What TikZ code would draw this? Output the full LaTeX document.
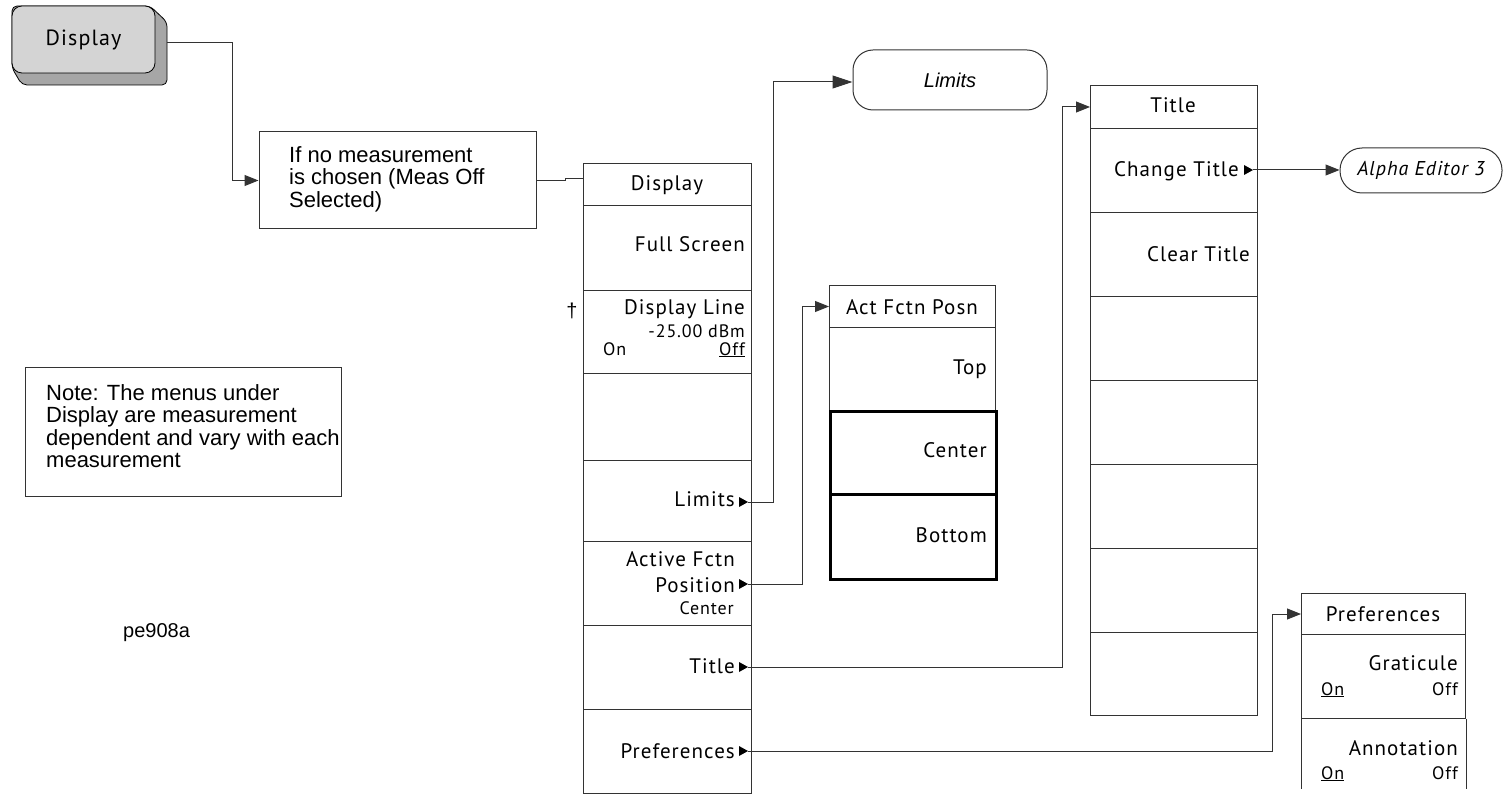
\documentclass[tikz,border=0pt]{standalone}
\usepackage{fontspec}
\setmainfont{Liberation Sans}
\newfontfamily\keyfont[LetterSpace=5]{PT Sans}
\usetikzlibrary{arrows.meta}
\definecolor{keygrey}{HTML}{D4D4D4}
\definecolor{shadegrey}{HTML}{A6A6A6}
\definecolor{edge}{HTML}{333333}
\newcommand{\keyarrow}[3]{\fill[black] (#2-9,#3-5) -- (#2-9,#3+5) -- (#2,#3) -- cycle; \coordinate (#1) at (#2,#3);}
\tikzset{
  conn/.style={draw=edge, line width=1pt, -{Triangle[length=14pt,width=11pt]}},
  bigconn/.style={draw=edge, line width=1pt, -{Triangle[length=20pt,width=13pt]}},
  plain/.style={draw=edge, line width=1pt},
  row/.style={draw=edge, line width=1pt, minimum width=168, inner sep=0, anchor=north west},
  thickrow/.style={draw=black, line width=2.6pt, minimum width=166, inner sep=0, anchor=north west},
  box/.style={draw=edge, line width=1pt, inner sep=0},
  notetext/.style={font=\fontsize{22}{22.5}\selectfont, inner sep=0, align=left, anchor=north west},
  keylbl/.style={font=\keyfont\fontsize{21}{22}\selectfont, inner sep=0, anchor=base east},
  keyhead/.style={font=\keyfont\fontsize{21}{22}\selectfont, inner sep=0, anchor=base},
  keysmall/.style={font=\keyfont\fontsize{18}{19}\selectfont, inner sep=0},
}
\begin{document}
\begin{tikzpicture}[x=1pt,y=-1pt]
\useasboundingbox (0,0) rectangle (1503,799);
% hard key
\filldraw[fill=shadegrey, draw=black, line width=0.8pt, rounded corners=5] (150,6) -- (167,22) -- (167,85) -- (22,85) -- (12,68) -- (12,6) -- cycle;
\node[draw=black, line width=0.8pt, fill=keygrey, rounded corners=10, minimum width=143, minimum height=67, inner sep=0, font=\keyfont\fontsize{22}{22}\selectfont] (hk) at (83.5,39.5) {Display};
\coordinate (hkout) at (167,43);
% condition box
\node[box, minimum width=277, minimum height=97] (nomeas) at (397.5,180.5) {};
\node[notetext] (nomeastxt) at (289,146) {If no measurement\\is chosen (Meas Off\\Selected)};
\draw[conn] (hkout) -- ++(65,0) |- (nomeas.west);
% note
\node[box, minimum width=316, minimum height=129] (notebox) at (183,431.5) {};
\node[notetext] (notetxt) at (46,384) {Note: The menus under\\Display are measurement\\dependent and vary with each\\measurement};
\node[font=\fontsize{20}{20}\selectfont, inner sep=0, anchor=base west] (fig) at (123,637) {pe908a};
% Display menu
\node[row, minimum height=42] (dhead) at (583,163) {};
\node[row, minimum height=85] (dfs) at (583,205) {};
\node[row, minimum height=83] (ddl) at (583,290) {};
\node[row, minimum height=87] (dblank) at (583,373) {};
\node[row, minimum height=81] (dlim) at (583,460) {};
\node[row, minimum height=84] (dafp) at (583,541) {};
\node[row, minimum height=84] (dtit) at (583,625) {};
\node[row, minimum height=84] (dpref) at (583,709) {};
\draw[plain] (nomeas.east) -- ++(29,0) |- ([yshift=6pt]dhead.west);
\node[keyhead] (lhead) at (667,191) {Display};
\node[keylbl] (lfs) at (745,252) {Full Screen};
\node[keylbl] (ldl) at (745,315) {Display Line};
\node[keysmall, anchor=base east] (ldlv) at (745,337) {-25.00 dBm};
\node[keysmall, anchor=base west] (ldlon) at (603,355) {On};
\node[keysmall, anchor=base east] (ldloff) at (745,355) {\underline{Off}};
\node[font=\fontsize{20}{20}\selectfont, inner sep=0] (dagger) at (572,311) {†};
\node[keylbl] (llim) at (735,506) {Limits};
\keyarrow{mlim}{748}{502}
\node[keylbl] (lafp1) at (735,566) {Active Fctn};
\node[keylbl] (lafp2) at (735,592) {Position};
\keyarrow{mafp}{748}{584}
\node[keysmall, anchor=base east] (lafp3) at (734,614) {Center};
\node[keylbl] (ltit) at (735,673) {Title};
\keyarrow{mtit}{748}{667}
\node[keylbl] (lpref) at (735,758) {Preferences};
\keyarrow{mpref}{748}{751}
% Limits oval
\node[draw=edge, line width=1pt, rounded corners=20, minimum width=194, minimum height=60, inner sep=0, font=\itshape\fontsize{20}{20}\selectfont] (limoval) at (950,80) {Limits};
\draw[bigconn] (mlim) -- ++(25,0) |- ([yshift=-2pt]limoval.west);
% Act Fctn Posn menu
\node[row, minimum width=166, minimum height=42] (ahead) at (829,285) {};
\node[row, minimum width=166, minimum height=83] (atop) at (829,327) {};
\node[thickrow, minimum height=83] (acen) at (829,410) {};
\node[thickrow, minimum height=85] (abot) at (829,493) {};
\node[keyhead] (lahead) at (912,314) {Act Fctn Posn};
\node[keylbl] (latop) at (987,374) {Top};
\node[keylbl] (lacen) at (987,457) {Center};
\node[keylbl] (labot) at (987,542) {Bottom};
\draw[conn] (mafp) -- ++(54,0) |- (ahead.west);
% Title menu
\node[row, minimum width=167, minimum height=43] (thead) at (1090,85) {};
\node[row, minimum width=167, minimum height=84] (tchg) at (1090,128) {};
\node[row, minimum width=167, minimum height=84] (tclr) at (1090,212) {};
\node[row, minimum width=167, minimum height=84] (tr3) at (1090,296) {};
\node[row, minimum width=167, minimum height=84] (tr4) at (1090,380) {};
\node[row, minimum width=167, minimum height=84] (tr5) at (1090,464) {};
\node[row, minimum width=167, minimum height=84] (tr6) at (1090,548) {};
\node[row, minimum width=167, minimum height=83] (tr7) at (1090,632) {};
\node[keyhead] (lthead) at (1173,113) {Title};
\node[keylbl] (ltchg) at (1239,177) {Change Title};
\keyarrow{mchg}{1253}{170}
\node[keylbl] (ltclr) at (1250,262) {Clear Title};
\draw[conn] (mtit) -- ++(314,0) |- (thead.west);
% Alpha editor
\node[draw=edge, line width=1pt, rounded corners=22, minimum width=162, minimum height=45, inner sep=0, font=\keyfont\itshape\fontsize{20}{20}\selectfont] (alpha) at (1421,170.5) {Alpha Editor 3};
\draw[conn] (mchg) -- (alpha.west |- mchg);
% Preferences menu
\node[row, minimum width=164, minimum height=41] (phead) at (1301,593) {};
\node[row, minimum width=164, minimum height=84] (pgrat) at (1301,634) {};
\draw[plain] (pgrat.south west) -- ++(0,70);
\draw[plain] (pgrat.south east) -- ++(0,70);
\node[keyhead] (lphead) at (1383,621) {Preferences};
\node[keylbl] (lpgrat) at (1458,670) {Graticule};
\node[keysmall, anchor=base west] (lpgon) at (1321,695) {\underline{On}};
\node[keysmall, anchor=base east] (lpgoff) at (1458,695) {Off};
\node[keylbl] (lpann) at (1458,755) {Annotation};
\node[keysmall, anchor=base west] (lpaon) at (1321,779) {\underline{On}};
\node[keysmall, anchor=base east] (lpaoff) at (1458,779) {Off};
\draw[conn] (mpref) -- ++(524,0) |- (phead.west);
\end{tikzpicture}
\end{document}
